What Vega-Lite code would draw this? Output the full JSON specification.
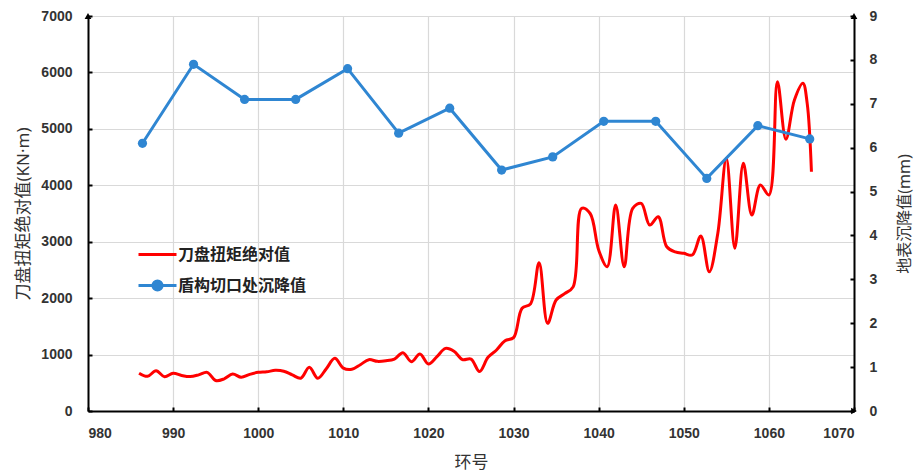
{
  "$schema": "https://vega.github.io/schema/vega-lite/v6.json",
  "width": 766,
  "height": 395,
  "autosize": {"type": "none"},
  "padding": {"left": 88, "top": 16, "right": 60, "bottom": 60},
  "background": "white",
  "config": {
    "view": {"stroke": null},
    "axis": {
      "labelFont": "Liberation Sans",
      "labelFontWeight": "bold",
      "labelFontSize": 14,
      "labelColor": "#333333",
      "domainColor": "#000000",
      "domainWidth": 2,
      "tickColor": "#000000",
      "tickWidth": 2,
      "tickSize": -4,
      "gridColor": "#d9d9d9",
      "gridWidth": 1.2,
      "titleFont": "Noto Sans, Noto Sans CJK SC",
      "titleFontWeight": "normal",
      "titleFontSize": 17,
      "titleColor": "#333333",
      "format": "d"
    }
  },
  "datasets": {
    "torque": [
      {"ring": 986, "v": 670}, {"ring": 987, "v": 615}, {"ring": 988, "v": 714}, {"ring": 989, "v": 608},
      {"ring": 990, "v": 668}, {"ring": 991, "v": 630}, {"ring": 992, "v": 610}, {"ring": 993, "v": 640},
      {"ring": 994, "v": 685}, {"ring": 995, "v": 540}, {"ring": 996, "v": 570}, {"ring": 997, "v": 655},
      {"ring": 998, "v": 597}, {"ring": 999, "v": 650}, {"ring": 1000, "v": 685}, {"ring": 1001, "v": 695},
      {"ring": 1002, "v": 720}, {"ring": 1003, "v": 705}, {"ring": 1004, "v": 640}, {"ring": 1005, "v": 580},
      {"ring": 1006, "v": 774}, {"ring": 1007, "v": 579}, {"ring": 1008, "v": 750}, {"ring": 1009, "v": 933},
      {"ring": 1010, "v": 760}, {"ring": 1011, "v": 740}, {"ring": 1012, "v": 820}, {"ring": 1013, "v": 910},
      {"ring": 1014, "v": 880}, {"ring": 1015, "v": 890}, {"ring": 1016, "v": 921}, {"ring": 1017, "v": 1033},
      {"ring": 1018, "v": 874}, {"ring": 1019, "v": 1010}, {"ring": 1020, "v": 833}, {"ring": 1021, "v": 962},
      {"ring": 1022, "v": 1110}, {"ring": 1023, "v": 1060}, {"ring": 1024, "v": 910}, {"ring": 1025, "v": 921},
      {"ring": 1026, "v": 700}, {"ring": 1027, "v": 951}, {"ring": 1028, "v": 1081}, {"ring": 1029, "v": 1246},
      {"ring": 1030, "v": 1300}, {"ring": 1031, "v": 1820}, {"ring": 1032, "v": 1900}, {"ring": 1033, "v": 2628},
      {"ring": 1034, "v": 1554}, {"ring": 1035, "v": 1967}, {"ring": 1036, "v": 2080}, {"ring": 1037, "v": 2200},
      {"ring": 1038, "v": 3592}, {"ring": 1039, "v": 3500}, {"ring": 1040, "v": 2853}, {"ring": 1041, "v": 2557},
      {"ring": 1042, "v": 3650}, {"ring": 1043, "v": 2557}, {"ring": 1044, "v": 3592}, {"ring": 1045, "v": 3680},
      {"ring": 1046, "v": 3296}, {"ring": 1047, "v": 3443}, {"ring": 1048, "v": 2911}, {"ring": 1049, "v": 2820},
      {"ring": 1050, "v": 2794}, {"ring": 1051, "v": 2764}, {"ring": 1052, "v": 3101}, {"ring": 1053, "v": 2468},
      {"ring": 1054, "v": 3149}, {"ring": 1055, "v": 4478}, {"ring": 1056, "v": 2883}, {"ring": 1057, "v": 4389},
      {"ring": 1058, "v": 3473}, {"ring": 1059, "v": 4005}, {"ring": 1060, "v": 3828}, {"ring": 1061, "v": 5835},
      {"ring": 1062, "v": 4815}, {"ring": 1063, "v": 5511}, {"ring": 1064, "v": 5807}, {"ring": 1064.5, "v": 5452},
      {"ring": 1065, "v": 4241}
    ],
    "settle": [
      {"ring": 986.4, "s": 6.1}, {"ring": 992.4, "s": 7.9}, {"ring": 998.4, "s": 7.1}, {"ring": 1004.4, "s": 7.1},
      {"ring": 1010.5, "s": 7.8}, {"ring": 1016.5, "s": 6.33}, {"ring": 1022.5, "s": 6.9}, {"ring": 1028.6, "s": 5.49},
      {"ring": 1034.6, "s": 5.79}, {"ring": 1040.6, "s": 6.6}, {"ring": 1046.7, "s": 6.6}, {"ring": 1052.7, "s": 5.3},
      {"ring": 1058.7, "s": 6.5}, {"ring": 1064.8, "s": 6.2}
    ],
    "arrows": [
      {"ring": 980, "v": 7000, "shape": "triangle-up"},
      {"ring": 1070, "v": 7000, "shape": "triangle-up"},
      {"ring": 1070, "v": 0, "shape": "triangle-right"}
    ]
  },
  "layer": [
    {
      "layer": [
        {
          "data": {"name": "torque"},
          "transform": [{"calculate": "'刀盘扭矩绝对值'", "as": "series"}],
          "mark": {"type": "line", "interpolate": "catmull-rom", "strokeWidth": 3},
          "encoding": {
            "x": {
              "field": "ring", "type": "quantitative",
              "scale": {"domain": [980, 1070], "nice": false, "zero": false},
              "axis": {"values": [980, 990, 1000, 1010, 1020, 1030, 1040, 1050, 1060, 1070], "title": "环号", "labelPadding": 19, "titlePadding": 14, "grid": true}
            },
            "y": {
              "field": "v", "type": "quantitative",
              "scale": {"domain": [0, 7000], "nice": false},
              "axis": {"values": [0, 1000, 2000, 3000, 4000, 5000, 6000, 7000], "title": "刀盘扭矩绝对值(KN·m)", "labelPadding": 20, "titlePadding": 8, "grid": true}
            },
            "color": {
              "field": "series", "type": "nominal",
              "scale": {"domain": ["刀盘扭矩绝对值", "盾构切口处沉降值"], "range": ["#ff0000", "#2f86d2"]},
              "legend": {
                "orient": "none", "legendX": 49, "legendY": 218, "title": null,
                "labelFont": "Noto Sans CJK SC", "labelFontSize": 16, "labelFontWeight": "bold", "labelColor": "#222222",
                "rowPadding": 2, "symbolSize": 1444, "symbolStrokeWidth": 3, "labelOffset": 0,
                "encode": {
                  "symbols": {"update": {
                    "shape": {"signal": "datum.value === '盾构切口处沉降值' ? 'M-1,0L1,0M-0.24,0A0.24,0.24 0 1,0 0.24,0A0.24,0.24 0 1,0 -0.24,0' : 'M-1,0L1,0'"},
                    "fill": {"signal": "datum.value === '盾构切口处沉降值' ? '#2f86d2' : 'transparent'"},
                    "strokeWidth": {"value": 3}
                  }}
                }
              }
            }
          }
        },
        {
          "data": {"name": "arrows"},
          "mark": {"type": "point", "filled": true, "color": "#000000", "size": 45, "opacity": 1},
          "encoding": {
            "x": {"field": "ring", "type": "quantitative"},
            "y": {"field": "v", "type": "quantitative"},
            "shape": {"field": "shape", "type": "nominal", "scale": null}
          }
        }
      ]
    },
    {
      "data": {"name": "settle"},
      "transform": [{"calculate": "'盾构切口处沉降值'", "as": "series"}],
      "mark": {"type": "line", "strokeWidth": 3, "point": {"filled": true, "size": 85}},
      "encoding": {
        "x": {"field": "ring", "type": "quantitative"},
        "y": {
          "field": "s", "type": "quantitative",
          "scale": {"domain": [0, 9], "nice": false},
          "axis": {"orient": "right", "values": [0, 1, 2, 3, 4, 5, 6, 7, 8, 9], "title": "地表沉降值(mm)", "titleAngle": 270, "titleFontSize": 16, "labelPadding": 19, "titlePadding": 36, "grid": false}
        },
        "color": {"field": "series", "type": "nominal"}
      }
    }
  ],
  "resolve": {"scale": {"y": "independent"}}
}
